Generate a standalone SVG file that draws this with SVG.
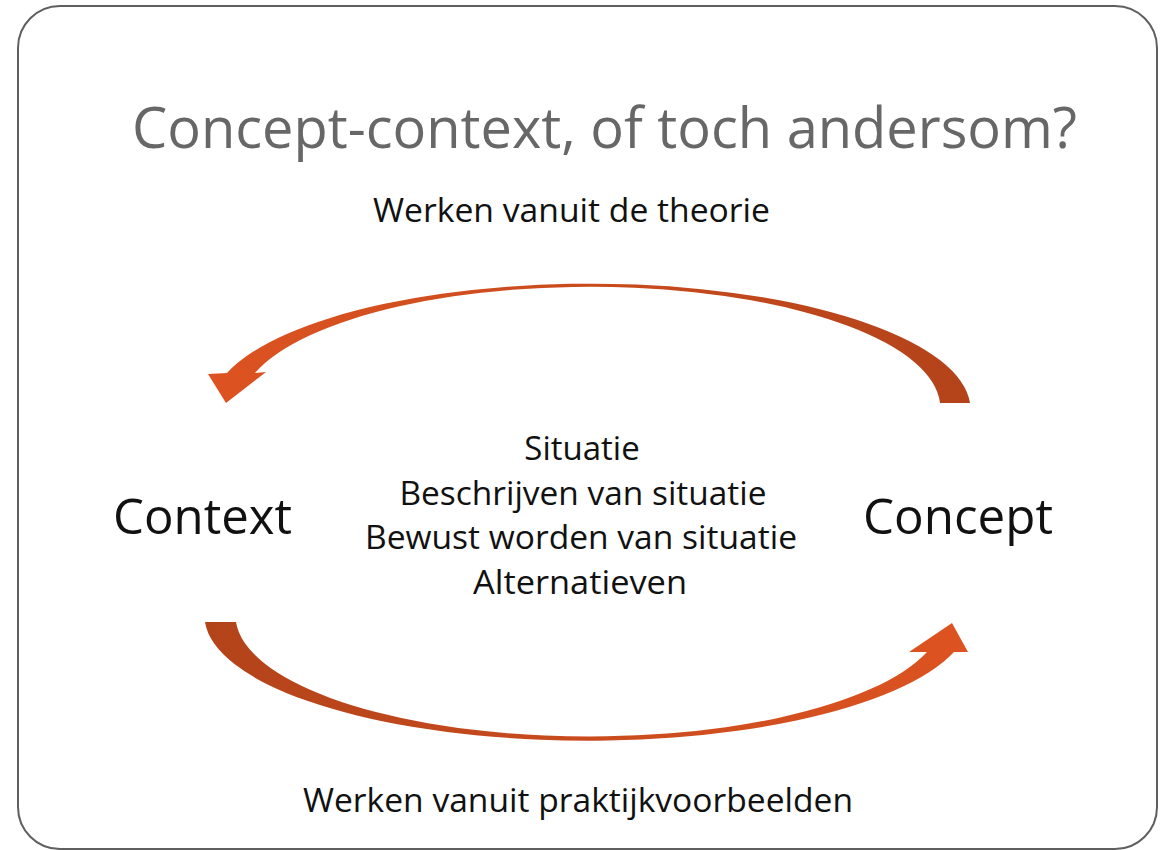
<svg xmlns="http://www.w3.org/2000/svg" width="1168" height="850" viewBox="0 0 1168 850">
  <style>
    .t { font-family: "Open Sans", "Noto Sans", "Liberation Sans", sans-serif; fill: #111; }
    .title { font-size: 56px; fill: #676767; }
    .big { font-size: 49px; }
    .mid { font-size: 33px; }
    .frame { fill: #ffffff; stroke: #5f5f5f; stroke-width: 2; }
  </style>
  <defs>
    <linearGradient id="gTop" x1="0" y1="0" x2="1" y2="0">
      <stop offset="0" stop-color="#dd5321"/>
      <stop offset="0.5" stop-color="#c94b1d"/>
      <stop offset="1" stop-color="#b3431a"/>
    </linearGradient>
    <linearGradient id="gBot" x1="0" y1="0" x2="1" y2="0">
      <stop offset="0" stop-color="#b3431a"/>
      <stop offset="0.5" stop-color="#c94b1d"/>
      <stop offset="1" stop-color="#dd5321"/>
    </linearGradient>
  </defs>

  <rect x="0" y="0" width="1168" height="850" fill="#ffffff"/>
  <rect id="frame" class="frame" x="18" y="6" width="1139" height="843" rx="42" ry="42"/>

  <g id="title">
    <text class="t title" x="604.5" y="148" text-anchor="middle" textLength="945" lengthAdjust="spacingAndGlyphs">Concept-context, of toch andersom?</text>
  </g>

  <g id="connectors">
    <path id="arrow-theory" fill="url(#gTop)" d="M 970,403 A 380 126 0 0 0 227,373 L 208,374 L 226,403 L 266,372 L 255,373 A 350 121 0 0 1 940,403 Z"/>
    <path id="arrow-practice" fill="url(#gBot)" d="M 205,622 A 383 125 0 0 0 954,652 L 968,652 L 952,623 L 909,652 L 927,652 A 354 121 0 0 1 236,622 Z"/>
  </g>

  <g id="label-theory">
    <text class="t mid" x="571.5" y="222" text-anchor="middle" textLength="397" lengthAdjust="spacingAndGlyphs">Werken vanuit de theorie</text>
  </g>

  <g id="node-context">
    <text class="t big" x="113" y="534" textLength="179" lengthAdjust="spacingAndGlyphs">Context</text>
  </g>

  <g id="node-concept">
    <text class="t big" x="863" y="534" textLength="190" lengthAdjust="spacingAndGlyphs">Concept</text>
  </g>

  <g id="node-situation">
    <text class="t mid" x="582" y="460" text-anchor="middle">Situatie</text>
    <text class="t mid" x="583" y="504.5" text-anchor="middle" textLength="367" lengthAdjust="spacingAndGlyphs">Beschrijven van situatie</text>
    <text class="t mid" x="581" y="549" text-anchor="middle" textLength="432" lengthAdjust="spacingAndGlyphs">Bewust worden van situatie</text>
    <text class="t mid" x="580" y="593.5" text-anchor="middle" textLength="214" lengthAdjust="spacingAndGlyphs">Alternatieven</text>
  </g>

  <g id="label-practice">
    <text class="t mid" x="578" y="812" text-anchor="middle" textLength="550" lengthAdjust="spacingAndGlyphs">Werken vanuit praktijkvoorbeelden</text>
  </g>
</svg>
